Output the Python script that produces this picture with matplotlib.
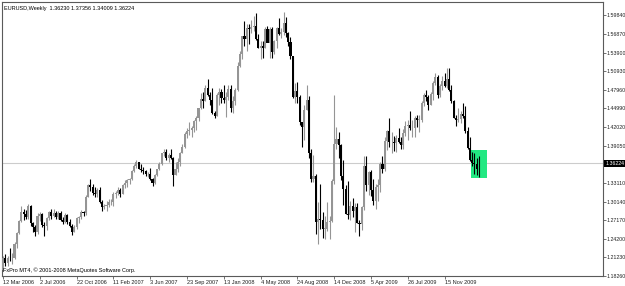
import matplotlib
matplotlib.use("Agg")
import matplotlib.pyplot as plt
from matplotlib.patches import Rectangle
from matplotlib import font_manager

# ---------------- data (weekly EURUSD, week starting 12 Mar 2006) ----------------
opens = [
    1.1920, 1.2110, 1.2030, 1.2115, 1.2110, 1.2120, 1.2340, 1.2510, 1.2710, 1.2850,
    1.2810, 1.2760, 1.2940, 1.2670, 1.2610, 1.2520, 1.2780, 1.2810, 1.2640, 1.2620,
    1.2750, 1.2840, 1.2780, 1.2830, 1.2760, 1.2830, 1.2720, 1.2690, 1.2800, 1.2680,
    1.2630, 1.2530, 1.2600, 1.2750, 1.2760, 1.2850, 1.2830, 1.3090, 1.3280, 1.3250,
    1.3150, 1.3140, 1.3200, 1.3000, 1.2930, 1.2950, 1.2960, 1.3000, 1.3010, 1.3130,
    1.3150, 1.3200, 1.3140, 1.3270, 1.3310, 1.3350, 1.3380, 1.3500, 1.3580, 1.3640,
    1.3540, 1.3510, 1.3500, 1.3450, 1.3460, 1.3370, 1.3310, 1.3430, 1.3530, 1.3620,
    1.3780, 1.3800, 1.3700, 1.3760, 1.3700, 1.3440, 1.3530, 1.3640, 1.3790, 1.3890,
    1.4090, 1.4140, 1.4160, 1.4190, 1.4300, 1.4340, 1.4500, 1.4650, 1.4620, 1.4830,
    1.4720, 1.4640, 1.4420, 1.4380, 1.4720, 1.4760, 1.4670, 1.4630, 1.4680, 1.4810,
    1.4500, 1.4610, 1.4800, 1.5180, 1.5360, 1.5650, 1.5600, 1.5780, 1.5760, 1.5800,
    1.5810, 1.5610, 1.5470, 1.5490, 1.5470, 1.5760, 1.5550, 1.5770, 1.5400, 1.5570,
    1.5780, 1.5680, 1.5720, 1.5860, 1.5700, 1.5560, 1.5330, 1.4680, 1.4770, 1.4680,
    1.4280, 1.4210, 1.4480, 1.4640, 1.3780, 1.3380, 1.3420, 1.2690, 1.2740, 1.2720,
    1.2580, 1.2580, 1.2690, 1.2710, 1.3340, 1.3930, 1.4010, 1.3920, 1.3420, 1.3210,
    1.2810, 1.2800, 1.2950, 1.2860, 1.2920, 1.2670, 1.2660, 1.2930, 1.3580, 1.3280,
    1.3480, 1.3200, 1.3030, 1.3250, 1.3280, 1.3620, 1.3530, 1.3980, 1.4140, 1.3960,
    1.3970, 1.3950, 1.4030, 1.3970, 1.3920, 1.4110, 1.4220, 1.4240, 1.4190, 1.4190,
    1.4350, 1.4320, 1.4320, 1.4580, 1.4720, 1.4680, 1.4560, 1.4730, 1.4910, 1.5000,
    1.4720, 1.4850, 1.4930, 1.4850, 1.4960, 1.4800, 1.4610, 1.4350, 1.4310, 1.4330,
    1.4410, 1.4380, 1.4140, 1.3870, 1.3680, 1.3630, 1.3610, 1.36230,
]
highs = [
    1.2150, 1.2180, 1.2150, 1.2270, 1.2185, 1.2365, 1.2530, 1.2720, 1.2935, 1.2890,
    1.2880, 1.2980, 1.2960, 1.2690, 1.2640, 1.2830, 1.2850, 1.2830, 1.2690, 1.2760,
    1.2860, 1.2900, 1.2890, 1.2860, 1.2860, 1.2860, 1.2760, 1.2830, 1.2810, 1.2730,
    1.2650, 1.2640, 1.2770, 1.2780, 1.2880, 1.2870, 1.3110, 1.3300, 1.3370, 1.3290,
    1.3240, 1.3230, 1.3250, 1.3040, 1.2980, 1.3030, 1.3060, 1.3060, 1.3170, 1.3180,
    1.3250, 1.3230, 1.3290, 1.3360, 1.3380, 1.3390, 1.3510, 1.3620, 1.3680, 1.3650,
    1.3620, 1.3560, 1.3520, 1.3480, 1.3550, 1.3390, 1.3460, 1.3540, 1.3640, 1.3790,
    1.3850, 1.3850, 1.3790, 1.3850, 1.3730, 1.3650, 1.3700, 1.3810, 1.3930, 1.4120,
    1.4190, 1.4280, 1.4220, 1.4310, 1.4380, 1.4510, 1.4750, 1.4760, 1.4870, 1.4970,
    1.4760, 1.4820, 1.4460, 1.4740, 1.4830, 1.4810, 1.4880, 1.4760, 1.4880, 1.4870,
    1.4690, 1.4830, 1.5240, 1.5420, 1.5660, 1.5900, 1.5840, 1.5840, 1.5910, 1.5980,
    1.6020, 1.5690, 1.5580, 1.5580, 1.5800, 1.5820, 1.5800, 1.5800, 1.5590, 1.5800,
    1.5940, 1.5780, 1.6040, 1.5950, 1.5720, 1.5630, 1.5340, 1.4900, 1.4920, 1.4720,
    1.4290, 1.4560, 1.4870, 1.4700, 1.3850, 1.3750, 1.3460, 1.3000, 1.3300, 1.2840,
    1.2780, 1.3000, 1.2780, 1.3380, 1.4720, 1.4200, 1.4130, 1.3930, 1.3680, 1.3270,
    1.3340, 1.3020, 1.3070, 1.2990, 1.2990, 1.2720, 1.2940, 1.3740, 1.3740, 1.3500,
    1.3510, 1.3370, 1.3290, 1.3370, 1.3650, 1.3740, 1.4050, 1.4160, 1.4340, 1.4130,
    1.4060, 1.4080, 1.4180, 1.4050, 1.4170, 1.4300, 1.4310, 1.4450, 1.4320, 1.4380,
    1.4390, 1.4390, 1.4610, 1.4740, 1.4800, 1.4720, 1.4760, 1.4930, 1.5060, 1.5030,
    1.4890, 1.5010, 1.5070, 1.5140, 1.5140, 1.4870, 1.4640, 1.4400, 1.4510, 1.4450,
    1.4580, 1.4540, 1.4200, 1.4040, 1.3800, 1.3790, 1.3700, 1.37356,
]
lows = [
    1.1910, 1.1980, 1.1980, 1.2060, 1.2020, 1.2100, 1.2280, 1.2500, 1.2690, 1.2720,
    1.2740, 1.2730, 1.2630, 1.2520, 1.2460, 1.2490, 1.2700, 1.2600, 1.2460, 1.2560,
    1.2720, 1.2740, 1.2760, 1.2740, 1.2740, 1.2710, 1.2660, 1.2670, 1.2660, 1.2610,
    1.2480, 1.2520, 1.2580, 1.2670, 1.2740, 1.2780, 1.2800, 1.3080, 1.3180, 1.3120,
    1.3080, 1.3080, 1.2990, 1.2870, 1.2890, 1.2860, 1.2930, 1.2960, 1.2950, 1.3070,
    1.3120, 1.3080, 1.3130, 1.3230, 1.3250, 1.3290, 1.3350, 1.3490, 1.3550, 1.3530,
    1.3480, 1.3450, 1.3420, 1.3410, 1.3360, 1.3260, 1.3300, 1.3420, 1.3520, 1.3600,
    1.3740, 1.3670, 1.3650, 1.3690, 1.3260, 1.3430, 1.3480, 1.3580, 1.3780, 1.3860,
    1.4030, 1.4080, 1.4040, 1.4130, 1.4160, 1.4300, 1.4490, 1.4500, 1.4610, 1.4700,
    1.4560, 1.4410, 1.4340, 1.4370, 1.4560, 1.4590, 1.4580, 1.4360, 1.4640, 1.4440,
    1.4430, 1.4560, 1.4780, 1.5160, 1.5280, 1.5500, 1.5420, 1.5530, 1.5700, 1.5740,
    1.5590, 1.5470, 1.5290, 1.5300, 1.5460, 1.5560, 1.5310, 1.5300, 1.5370, 1.5460,
    1.5670, 1.5620, 1.5670, 1.5640, 1.5490, 1.5280, 1.4660, 1.4590, 1.4580, 1.4240,
    1.3880, 1.4000, 1.4470, 1.3710, 1.3330, 1.3320, 1.2500, 1.2330, 1.2580, 1.2430,
    1.2420, 1.2550, 1.2420, 1.2680, 1.3300, 1.3850, 1.3700, 1.3350, 1.2960, 1.2810,
    1.2740, 1.2720, 1.2760, 1.2520, 1.2670, 1.2460, 1.2560, 1.2880, 1.3180, 1.3110,
    1.3100, 1.2960, 1.2890, 1.3020, 1.3170, 1.3470, 1.3500, 1.3830, 1.3890, 1.3790,
    1.3820, 1.3800, 1.3950, 1.3850, 1.3850, 1.4060, 1.3990, 1.4160, 1.4050, 1.4050,
    1.4200, 1.4130, 1.4290, 1.4530, 1.4620, 1.4480, 1.4550, 1.4640, 1.4880, 1.4660,
    1.4680, 1.4800, 1.4840, 1.4830, 1.4780, 1.4580, 1.4340, 1.4220, 1.4280, 1.4260,
    1.4340, 1.4100, 1.3850, 1.3660, 1.3580, 1.3460, 1.3440, 1.34009,
]
closes = [
    1.2110, 1.2030, 1.2115, 1.2110, 1.2120, 1.2340, 1.2510, 1.2710, 1.2850, 1.2810,
    1.2760, 1.2940, 1.2670, 1.2610, 1.2520, 1.2780, 1.2810, 1.2640, 1.2620, 1.2750,
    1.2840, 1.2780, 1.2830, 1.2760, 1.2830, 1.2720, 1.2690, 1.2800, 1.2680, 1.2630,
    1.2530, 1.2600, 1.2750, 1.2760, 1.2850, 1.2830, 1.3090, 1.3280, 1.3250, 1.3150,
    1.3140, 1.3200, 1.3000, 1.2930, 1.2950, 1.2960, 1.3000, 1.3010, 1.3130, 1.3150,
    1.3200, 1.3140, 1.3270, 1.3310, 1.3350, 1.3380, 1.3500, 1.3580, 1.3640, 1.3540,
    1.3510, 1.3500, 1.3450, 1.3460, 1.3370, 1.3310, 1.3430, 1.3530, 1.3620, 1.3780,
    1.3800, 1.3700, 1.3760, 1.3700, 1.3440, 1.3530, 1.3640, 1.3790, 1.3890, 1.4090,
    1.4140, 1.4160, 1.4190, 1.4300, 1.4340, 1.4500, 1.4650, 1.4620, 1.4830, 1.4720,
    1.4640, 1.4420, 1.4380, 1.4720, 1.4760, 1.4670, 1.4630, 1.4680, 1.4810, 1.4500,
    1.4610, 1.4800, 1.5180, 1.5360, 1.5650, 1.5600, 1.5780, 1.5760, 1.5800, 1.5810,
    1.5610, 1.5470, 1.5490, 1.5470, 1.5760, 1.5550, 1.5770, 1.5400, 1.5570, 1.5780,
    1.5680, 1.5720, 1.5860, 1.5700, 1.5560, 1.5330, 1.4680, 1.4770, 1.4680, 1.4280,
    1.4210, 1.4480, 1.4640, 1.3780, 1.3380, 1.3420, 1.2690, 1.2740, 1.2720, 1.2580,
    1.2580, 1.2690, 1.2710, 1.3340, 1.3930, 1.4010, 1.3920, 1.3420, 1.3210, 1.2810,
    1.2800, 1.2950, 1.2860, 1.2920, 1.2670, 1.2660, 1.2930, 1.3580, 1.3280, 1.3480,
    1.3200, 1.3030, 1.3250, 1.3280, 1.3620, 1.3530, 1.3980, 1.4140, 1.3960, 1.3970,
    1.3950, 1.4030, 1.3970, 1.3920, 1.4110, 1.4220, 1.4240, 1.4190, 1.4190, 1.4350,
    1.4320, 1.4320, 1.4580, 1.4720, 1.4680, 1.4560, 1.4730, 1.4910, 1.5000, 1.4720,
    1.4850, 1.4930, 1.4850, 1.4960, 1.4800, 1.4610, 1.4350, 1.4310, 1.4330, 1.4410,
    1.4380, 1.4140, 1.3870, 1.3680, 1.3630, 1.3610, 1.3540, 1.36224,
]

price_ticks = [1.18260, 1.21230, 1.24200, 1.27170, 1.30140, 1.33110,
               1.39050, 1.42020, 1.44990, 1.47960, 1.50930, 1.53900, 1.56870, 1.59840]
date_tick_bars = [0, 16, 32, 48, 64, 80, 96, 112, 128, 144, 160, 176, 192]
date_labels = ["12 Mar 2006", "2 Jul 2006", "22 Oct 2006", "11 Feb 2007", "3 Jun 2007",
               "23 Sep 2007", "13 Jan 2008", "4 May 2008", "24 Aug 2008", "14 Dec 2008",
               "5 Apr 2009", "26 Jul 2009", "15 Nov 2009"]
header = "EURUSD,Weekly  1.36230 1.37356 1.34009 1.36224"
footer = "FxPro MT4, \u00a9 2001-2008 MetaQuotes Software Corp."
last_price = 1.36224

# ---------------- style ----------------
avail = {f.name for f in font_manager.fontManager.ttflist}
fam = ["Liberation Sans Narrow"] if "Liberation Sans Narrow" in avail else ["Liberation Sans", "DejaVu Sans"]
plt.rcParams['font.family'] = fam
FS = 4.0
FSY = 3.75
BULL = "#959595"
BEAR = "#000000"
FRAME = "#5a5a5a"

W, H = 625, 286
fig = plt.figure(figsize=(W / 100, H / 100), dpi=100)
fig.patch.set_facecolor("white")
left_px, right_px, top_px, bottom_px = 2, 603, 2, 276
ax = fig.add_axes([left_px / W, (H - bottom_px) / H, (right_px - left_px) / W, (bottom_px - top_px) / H])
ax.set_facecolor("white")

n = len(closes)
xs = list(range(n))
up = [c >= o for o, c in zip(opens, closes)]
cols = [BULL if u else BEAR for u in up]

# wicks
ax.vlines(xs, lows, highs, colors=cols, linewidth=0.8, zorder=3)
# bodies
bottoms = [min(o, c) for o, c in zip(opens, closes)]
heights = [max(abs(c - o), 0.0004) for o, c in zip(opens, closes)]
ax.bar(xs, heights, bottom=bottoms, width=0.9, color=cols, linewidth=0, zorder=3)

# current price line
ax.axhline(last_price, color="#cccccc", linewidth=0.8, zorder=1)

# green marker box around the last bars
ax.add_patch(Rectangle((203.6, 1.3389), 6.9, 0.0447, facecolor="#22e882",
                       edgecolor="none", zorder=2))

ax.set_xlim(-0.45, 260.9)
ax.set_ylim(1.18260, 1.6196)

for s in ax.spines.values():
    s.set_color(FRAME)
    s.set_linewidth(0.8)

ax.yaxis.tick_right()
ax.set_yticks(price_ticks)
ax.set_yticklabels([f"{p:.5f}" for p in price_ticks], fontsize=FSY, color="#202020")
ax.tick_params(axis="y", length=2, width=0.6, pad=0.8, colors=FRAME, labelcolor="#202020")
ax.set_xticks(date_tick_bars)
ax.set_xticklabels(date_labels, fontsize=FS, color="#202020", ha="left")
ax.tick_params(axis="x", length=2, width=0.6, pad=1.0, colors=FRAME, labelcolor="#202020")

# current price tag on the right axis
ax.text(1.0035, last_price, f"{last_price:.5f}", transform=ax.get_yaxis_transform(),
        fontsize=FSY, color="white", va="center", ha="left",
        bbox=dict(boxstyle="square,pad=0.15", facecolor="black", edgecolor="none"), zorder=5,
        clip_on=False)

ax.text(0.003, 0.985, header, transform=ax.transAxes, fontsize=FS, color="#000000",
        va="top", ha="left")
ax.text(0.002, 0.012, footer, transform=ax.transAxes, fontsize=FS, color="#000000",
        va="bottom", ha="left")

fig.savefig("out.png", dpi=100, facecolor="white")
